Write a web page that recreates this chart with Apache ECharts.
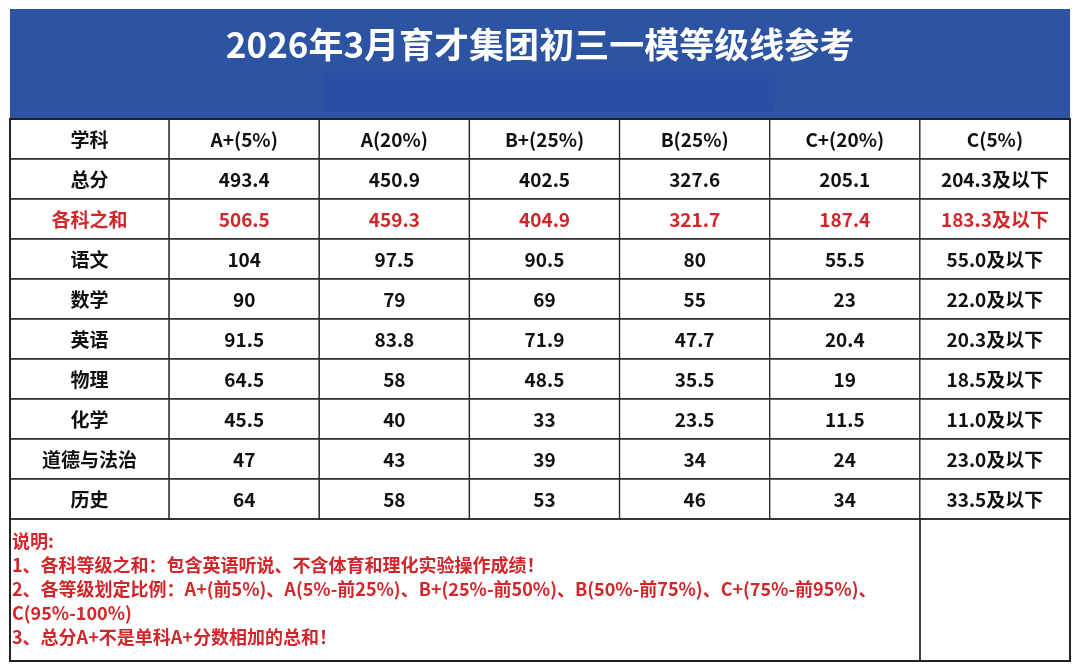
<!DOCTYPE html>
<html>
<head>
<meta charset="utf-8">
<script src="https://cdn.jsdelivr.net/npm/echarts@6/dist/echarts.min.js"></script>
<style>
html, body { margin: 0; padding: 0; background: #fff; }
#main { width: 1080px; height: 672px; }
</style>
</head>
<body>
<div id="main"></div>
<script>
var titleText = '2026年3月育才集团初三一模等级线参考';
var headers = ['学科', 'A+(5%)', 'A(20%)', 'B+(25%)', 'B(25%)', 'C+(20%)', 'C(5%)'];
var subjects = ['总分', '各科之和', '语文', '数学', '英语', '物理', '化学', '道德与法治', '历史'];
var redRows = ['各科之和'];

// one array per grade column, same order as subjects
var aPlusData = [493.4, 506.5, 104, 90, 91.5, 64.5, 45.5, 47, 64];
var aData     = [450.9, 459.3, 97.5, 79, 83.8, 58, 40, 43, 58];
var bPlusData = [402.5, 404.9, 90.5, 69, 71.9, 48.5, 33, 39, 53];
var bData     = [327.6, 321.7, 80, 55, 47.7, 35.5, 23.5, 34, 46];
var cPlusData = [205.1, 187.4, 55.5, 23, 20.4, 19, 11.5, 24, 34];
var cData     = [204.3, 183.3, 55.0, 22.0, 20.3, 18.5, 11.0, 23.0, 33.5];

var notes = [
    '说明:',
    '1、各科等级之和：包含英语听说、不含体育和理化实验操作成绩！',
    '2、各等级划定比例：A+(前5%)、A(5%-前25%)、B+(25%-前50%)、B(50%-前75%)、C+(75%-前95%)、',
    'C(95%-100%)',
    '3、总分A+不是单科A+分数相加的总和！'
];

var firstColMin = -1.06;   // first column is a bit wider than the others
var font = '"Noto Sans CJK SC", "Noto Sans", sans-serif';
var red = '#d2262a';

var rows = ['学科'].concat(subjects);
var cells = [];
headers.forEach(function (h, c) { cells.push([c, 0, h, 0]); });
var gradeCols = [aPlusData, aData, bPlusData, bData, cPlusData, cData];
subjects.forEach(function (s, i) {
    var isRed = redRows.indexOf(s) >= 0 ? 1 : 0;
    cells.push([0, i + 1, s, isRed]);
    gradeCols.forEach(function (arr, j) {
        var txt = j === gradeCols.length - 1 ? arr[i].toFixed(1) + '及以下' : String(arr[i]);
        cells.push([j + 1, i + 1, txt, isRed]);
    });
});

function renderCell(params, api) {
    var cell = cells[params.dataIndex];
    var c = cell[0], r = cell[1];
    var left = api.coord([c === 0 ? firstColMin : c - 1, r])[0];
    var right = api.coord([c, r])[0];
    var cy = api.coord([c, r])[1];
    var h = api.size([0, 1])[1];
    return {
        type: 'group',
        children: [
            {
                type: 'rect',
                shape: { x: left, y: cy - h / 2, width: right - left, height: h },
                style: { fill: '#fff', stroke: '#2a2a2a', lineWidth: 1.3 }
            },
            {
                type: 'text',
                style: {
                    x: (left + right) / 2, y: cy + 1,
                    text: cell[2],
                    align: 'center', verticalAlign: 'middle',
                    font: 'bold 19px ' + font,
                    fill: cell[3] ? red : '#111'
                }
            }
        ]
    };
}

var chart = echarts.init(document.getElementById('main'));
var option = {
    animation: false,
    backgroundColor: '#fff',
    title: {
        text: titleText,
        left: 'center',
        top: 22,
        textStyle: { color: '#fff', fontSize: 35, fontWeight: 'bold', fontFamily: font }
    },
    grid: { left: 10, right: 10, top: 119, height: 400 },
    xAxis: { type: 'value', min: firstColMin, max: 6, show: false },
    yAxis: { type: 'category', data: rows, inverse: true, show: false },
    graphic: [
        { type: 'rect', z: -10, shape: { x: 10, y: 9, width: 1060, height: 111 }, style: { fill: '#2d53a3' } },
        { type: 'rect', z: -9, shape: { x: 323, y: 73, width: 452, height: 39, r: 3 }, style: { fill: '#284da2', opacity: 0.8 } },
        { type: 'rect', z: 5, shape: { x: 10, y: 519, width: 910, height: 142 }, style: { fill: 'none', stroke: '#2a2a2a', lineWidth: 1.3 } },
        { type: 'rect', z: 5, shape: { x: 920, y: 519, width: 150, height: 142 }, style: { fill: 'none', stroke: '#2a2a2a', lineWidth: 1.3 } },
        { type: 'rect', z: 6, shape: { x: 10, y: 119, width: 1060, height: 542 }, style: { fill: 'none', stroke: '#222', lineWidth: 2 } },
        {
            type: 'text', z: 6, left: 12, top: 529,
            style: {
                text: notes.join('\n'),
                font: 'bold 18px ' + font,
                lineHeight: 24,
                fill: red
            }
        }
    ],
    series: [{
        type: 'custom',
        renderItem: renderCell,
        data: cells.map(function (d) { return [d[0], d[1]]; }),
        silent: true
    }]
};
chart.setOption(option);
</script>
</body>
</html>
